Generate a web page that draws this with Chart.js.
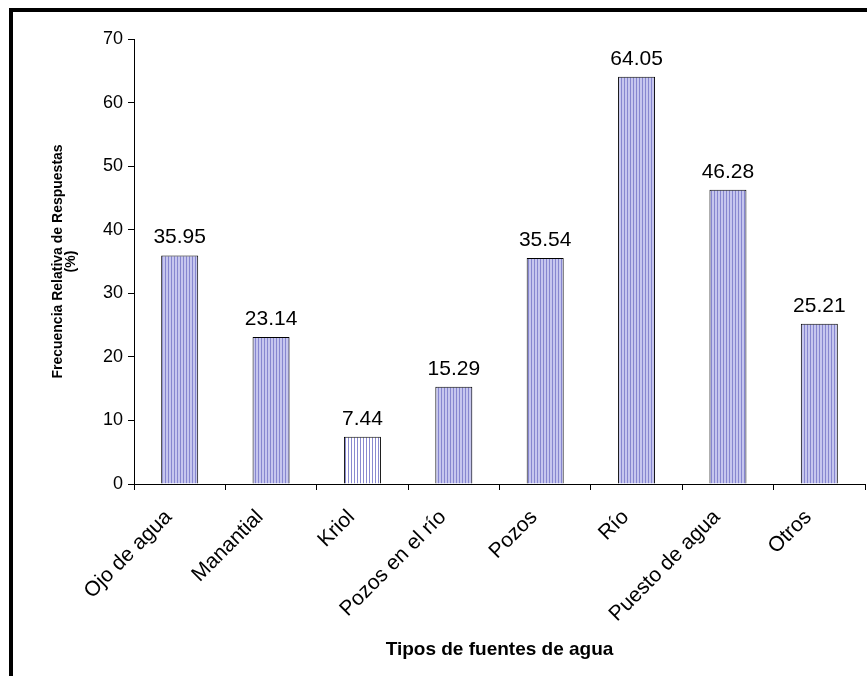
<!DOCTYPE html>
<html>
<head>
<meta charset="utf-8">
<script src="https://cdn.jsdelivr.net/npm/chart.js@4/dist/chart.umd.min.js"></script>
<style>
  html, body { margin: 0; padding: 0; background: #fff; }
  #wrap { position: relative; width: 867px; height: 676px; overflow: hidden; }
  #marco { position: absolute; left: 9px; top: 8px; width: 900px; height: 700px;
           border-top: 4px solid #000; border-left: 4px solid #000; pointer-events: none; }
  canvas { position: absolute; left: 0; top: 0; }
</style>
</head>
<body>
<div id="wrap">
  <canvas id="myChart" width="867" height="676"></canvas>
  <div id="marco"></div>
</div>
<script>
const fuentes = ["Ojo de agua", "Manantial", "Kriol", "Pozos en el río", "Pozos", "Río", "Puesto de agua", "Otros"];
const frecuencia = [35.95, 23.14, 7.44, 15.29, 35.54, 64.05, 46.28, 25.21];
const ticksY = [0, 10, 20, 30, 40, 50, 60, 70];

const fuente = "'Liberation Sans', Arial, sans-serif";

// rayas verticales de las barras
function rayas(oscuro, claro) {
  let c = document.createElement("canvas");
  c.width = 3; c.height = 4;
  let x = c.getContext("2d");
  x.fillStyle = claro; x.fillRect(0, 0, 3, 4);
  x.fillStyle = oscuro; x.fillRect(0, 0, 1, 4);
  return x.createPattern(c, "repeat");
}
const relleno = rayas("#8686cf", "#c6c6ee");
const rellenoKriol = rayas("#8a8ad0", "#ffffff");
const colores = fuentes.map((f, i) => i === 2 ? rellenoKriol : relleno);

const etiquetas = {
  id: "etiquetas",
  afterDatasetsDraw(chart) {
    const ctx = chart.ctx;
    const meta = chart.getDatasetMeta(0);
    ctx.save();
    ctx.font = "21px " + fuente;
    ctx.fillStyle = "#000";
    ctx.textAlign = "center";
    ctx.textBaseline = "alphabetic";
    meta.data.forEach((bar, i) => {
      ctx.fillText(frecuencia[i].toFixed(2), bar.x, bar.y - 12);
    });
    ctx.restore();
  }
};

let myChart = document.getElementById("myChart");
new Chart(myChart, {
  type: "bar",
  data: {
    labels: fuentes,
    datasets: [{
      data: frecuencia,
      backgroundColor: colores,
      borderColor: "#000",
      borderWidth: 1,
      barPercentage: 0.405,
      categoryPercentage: 1
    }]
  },
  options: {
    responsive: false,
    animation: false,
    layout: { padding: { top: 39, right: 2, left: 0, bottom: 0 } },
    plugins: { legend: { display: false }, tooltip: { enabled: false } },
    scales: {
      x: {
        grid: { drawOnChartArea: false, drawTicks: true, tickLength: 6, color: "#000", offset: true },
        border: { color: "#000", width: 1 },
        ticks: { color: "#000", font: { family: fuente, size: 21 }, maxRotation: 45, minRotation: 45,
                 autoSkip: false, padding: 15, labelOffset: -11 },
        title: { display: true, text: "Tipos de fuentes de agua", color: "#000",
                 font: { family: fuente, size: 19, weight: "bold", lineHeight: 1.2 }, padding: { top: 0, bottom: 15 } },
        afterFit(scale) { scale.height = 192; }
      },
      y: {
        min: 0, max: 70,
        afterBuildTicks(scale) { scale.ticks = ticksY.map(v => ({ value: v })); },
        grid: { drawOnChartArea: false, drawTicks: true, tickLength: 6, color: "#000" },
        border: { color: "#000", width: 1 },
        ticks: { color: "#000", font: { family: fuente, size: 18 }, padding: 5 },
        title: { display: true, text: ["Frecuencia Relativa de Respuestas", "(%)"], color: "#000",
                 font: { family: fuente, size: 14, weight: "bold", lineHeight: 0.9 }, padding: { top: 52, bottom: 0 } },
        afterFit(scale) { scale.width = 134; }
      }
    }
  },
  plugins: [etiquetas]
});
</script>
</body>
</html>
